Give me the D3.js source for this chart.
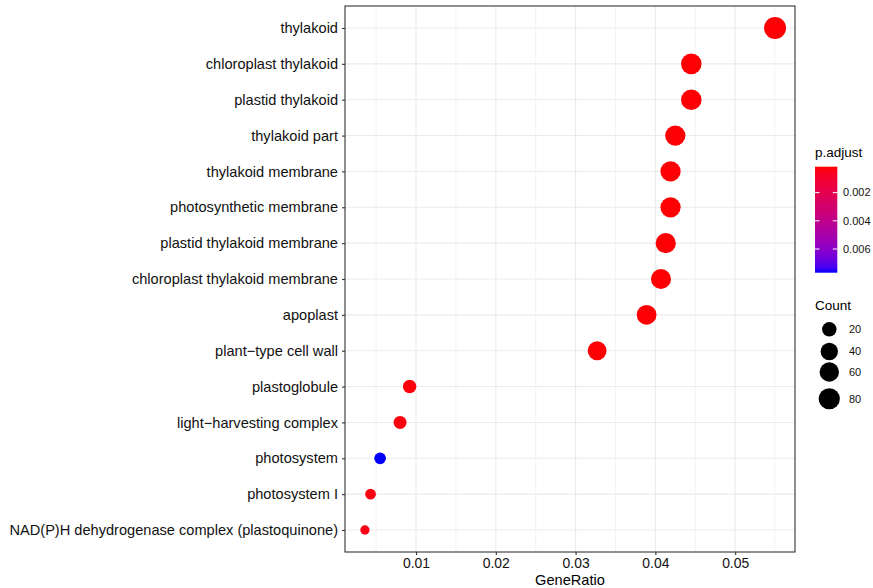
<!DOCTYPE html>
<html>
<head>
<meta charset="utf-8">
<script src="https://cdn.jsdelivr.net/npm/d3@7"></script>
<style>
body { margin: 0; background: #fff; }
text { font-family: "Liberation Sans", Arial, sans-serif; }
</style>
</head>
<body>
<script>
// GO terms, top to bottom
var terms = ['thylakoid', 'chloroplast thylakoid', 'plastid thylakoid', 'thylakoid part',
  'thylakoid membrane', 'photosynthetic membrane', 'plastid thylakoid membrane',
  'chloroplast thylakoid membrane', 'apoplast', 'plant\u2212type cell wall', 'plastoglobule',
  'light\u2212harvesting complex', 'photosystem', 'photosystem I',
  'NAD(P)H dehydrogenase complex (plastoquinone)'];
var geneRatio = [0.0550, 0.0445, 0.0445, 0.0425, 0.0419, 0.0419, 0.0413, 0.0407, 0.0389,
  0.0327, 0.0092, 0.0080, 0.0055, 0.0043, 0.0036];
var counts = [91, 73, 73, 70, 69, 69, 68, 67, 64, 54, 15, 13, 9, 7, 6];
var padj = [0.0002, 0.0002, 0.0002, 0.0002, 0.0002, 0.0002, 0.0002, 0.0002, 0.0002, 0.0002,
  0.0003, 0.0003, 0.0077, 0.0004, 0.0004];
var xTicks = [0.01, 0.02, 0.03, 0.04, 0.05];
var colTicks = [0.002, 0.004, 0.006];
var sizeTicks = [20, 40, 60, 80];

var W = 873, H = 588;
var m = {left: 345, right: 795, top: 6, bottom: 552};

var svg = d3.select('body').append('svg')
  .attr('width', W).attr('height', H);

var x = d3.scaleLinear().domain([0.0011, 0.0575]).range([m.left, m.right]);
var y = d3.scalePoint().domain(terms).range([28, 530]);
var col = d3.scaleLinear().domain([0.00016, 0.00768]).range(['#ff0000', '#0000ff'])
  .interpolate(d3.interpolateLab);
var cmin = d3.min(counts), cmax = d3.max(counts);
var rr = d3.scaleLinear().domain([0, 1]).range([4.65, 11]);
function radius(c) { return rr(Math.sqrt((c - cmin) / (cmax - cmin))); }

var data = terms.map(function(t, i) {
  return {term: t, ratio: geneRatio[i], count: counts[i], p: padj[i]};
});

// panel background + grid
svg.append('rect')
  .attr('x', m.left).attr('y', m.top)
  .attr('width', m.right - m.left).attr('height', m.bottom - m.top)
  .attr('fill', '#fff');

var minor = d3.range(0.005, 0.0576, 0.01);
svg.selectAll('line.minor').data(minor).enter().append('line')
  .attr('x1', x).attr('x2', x).attr('y1', m.top).attr('y2', m.bottom)
  .attr('stroke', '#ebebeb').attr('stroke-width', 0.6);
svg.selectAll('line.vmaj').data(xTicks).enter().append('line')
  .attr('x1', x).attr('x2', x).attr('y1', m.top).attr('y2', m.bottom)
  .attr('stroke', '#ebebeb').attr('stroke-width', 1.1);
svg.selectAll('line.hmaj').data(terms).enter().append('line')
  .attr('x1', m.left).attr('x2', m.right).attr('y1', y).attr('y2', y)
  .attr('stroke', '#ebebeb').attr('stroke-width', 1.1);

// points
svg.selectAll('circle.pt').data(data).enter().append('circle')
  .attr('cx', function(d) { return x(d.ratio); })
  .attr('cy', function(d) { return y(d.term); })
  .attr('r', function(d) { return radius(d.count); })
  .attr('fill', function(d) { return col(d.p); });

svg.append('rect')
  .attr('x', m.left).attr('y', m.top)
  .attr('width', m.right - m.left).attr('height', m.bottom - m.top)
  .attr('fill', 'none').attr('stroke', '#333').attr('stroke-width', 1.1);

// axes
var xa = svg.append('g').attr('transform', 'translate(0,' + m.bottom + ')')
  .call(d3.axisBottom(x).tickValues(xTicks).tickSize(3).tickPadding(3)
    .tickFormat(d3.format('.2f')));
var ya = svg.append('g').attr('transform', 'translate(' + m.left + ',0)')
  .call(d3.axisLeft(y).tickSize(3).tickPadding(4));
[xa, ya].forEach(function(a) {
  a.select('.domain').remove();
  a.selectAll('.tick line').attr('stroke', '#333').attr('stroke-width', 1.1);
  a.selectAll('.tick text').attr('fill', '#111')
    .style('font-family', '"Liberation Sans", Arial, sans-serif');
});
xa.selectAll('.tick text').style('font-size', '13.9px');
ya.selectAll('.tick text').style('font-size', '14.6px');

svg.append('text').attr('x', (m.left + m.right) / 2).attr('y', 585)
  .attr('text-anchor', 'middle').style('font-size', '14.6px').text('GeneRatio');

// colour legend
var defs = svg.append('defs');
var grad = defs.append('linearGradient').attr('id', 'padj')
  .attr('x1', 0).attr('x2', 0).attr('y1', 0).attr('y2', 1);
grad.selectAll('stop').data(d3.range(0, 1.01, 0.05)).enter().append('stop')
  .attr('offset', function(d) { return d; })
  .attr('stop-color', function(d) { return col(col.domain()[0] + d * (col.domain()[1] - col.domain()[0])); });

var cy = d3.scaleLinear().domain(col.domain()).range([166.7, 272.7]);
svg.append('text').attr('x', 815).attr('y', 157).style('font-size', '13.5px').text('p.adjust');
svg.append('rect').attr('x', 815).attr('y', 166.7).attr('width', 22.3).attr('height', 106)
  .attr('fill', 'url(#padj)');
colTicks.forEach(function(t) {
  svg.append('line').attr('x1', 815).attr('x2', 819.5).attr('y1', cy(t)).attr('y2', cy(t))
    .attr('stroke', '#fff').attr('stroke-width', 1);
  svg.append('line').attr('x1', 832.8).attr('x2', 837.3).attr('y1', cy(t)).attr('y2', cy(t))
    .attr('stroke', '#fff').attr('stroke-width', 1);
  svg.append('text').attr('x', 843).attr('y', cy(t)).attr('dy', '0.35em')
    .style('font-size', '11px').attr('fill', '#111').text(t.toFixed(3));
});

// size legend
var sy = [329.3, 351.5, 372, 398.7];
svg.append('text').attr('x', 815).attr('y', 310).style('font-size', '13.5px').text('Count');
sizeTicks.forEach(function(c, i) {
  svg.append('circle').attr('cx', 829.3).attr('cy', sy[i]).attr('r', radius(c)).attr('fill', '#000');
  svg.append('text').attr('x', 849).attr('y', sy[i]).attr('dy', '0.35em')
    .style('font-size', '11px').attr('fill', '#111').text(c);
});
</script>
</body>
</html>
